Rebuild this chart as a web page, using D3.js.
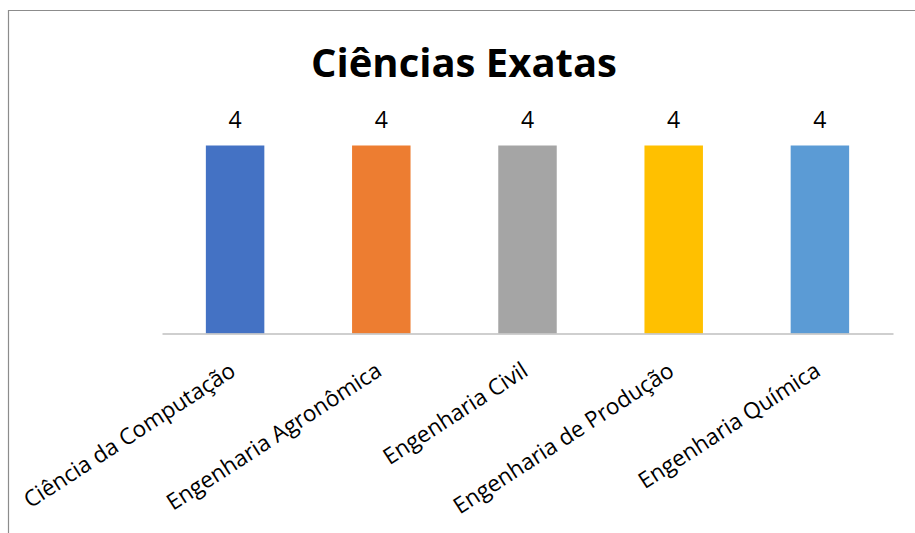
<!DOCTYPE html>
<html>
<head>
<meta charset="utf-8">
<script src="https://cdn.jsdelivr.net/npm/d3@7"></script>
<style>
  body { margin: 0; background: #fff; }
  svg { display: block; }
</style>
</head>
<body>
<svg width="915" height="533"></svg>
<script>
  const cursos = [
    "Ciência da Computação",
    "Engenharia Agronômica",
    "Engenharia Civil",
    "Engenharia de Produção",
    "Engenharia Química"
  ];
  const valores = [4, 4, 4, 4, 4];
  const cores = ["#4472c4", "#ed7d31", "#a5a5a5", "#ffc000", "#5b9bd5"];
  const titulo = "Ciências Exatas";

  const svg = d3.select("svg");
  const width = +svg.attr("width");
  const height = +svg.attr("height");
  const font = "'Open Sans', 'Liberation Sans', sans-serif";

  // moldura do gráfico (só esquerda e topo aparecem)
  svg.append("path")
    .attr("d", `M8.5,${height}V10.5H${width}`)
    .attr("fill", "none")
    .attr("stroke", "#8c8c8c")
    .attr("stroke-width", 1.2);

  const x = d3.scaleBand()
    .domain(cursos)
    .range([162, 893])
    .paddingInner(0.6)
    .paddingOuter(0.3);

  const y = d3.scaleLinear()
    .domain([0, 5])
    .range([333.5, 98.5]);

  svg.append("text")
    .attr("x", 464)
    .attr("y", 77)
    .attr("text-anchor", "middle")
    .attr("font-family", font)
    .attr("font-weight", "bold")
    .attr("font-size", 40)
    .attr("fill", "#000")
    .text(titulo);

  const dados = cursos.map((c, i) => ({ curso: c, valor: valores[i], cor: cores[i] }));

  svg.append("g")
    .selectAll("rect")
    .data(dados)
    .join("rect")
    .attr("x", d => x(d.curso))
    .attr("width", x.bandwidth())
    .attr("y", d => y(d.valor))
    .attr("height", d => y(0) - y(d.valor))
    .attr("fill", d => d.cor);

  svg.append("g")
    .selectAll("text")
    .data(dados)
    .join("text")
    .attr("x", d => x(d.curso) + x.bandwidth() / 2)
    .attr("y", d => y(d.valor) - 18)
    .attr("text-anchor", "middle")
    .attr("font-family", font)
    .attr("font-size", 23)
    .attr("fill", "#000")
    .text(d => d.valor);

  // eixo x
  const eixo = svg.append("g")
    .attr("transform", `translate(0,${y(0)})`)
    .call(d3.axisBottom(x).tickSize(0).tickPadding(0));
  eixo.select(".domain")
    .attr("stroke", "#bfbfbf")
    .attr("stroke-width", 1.5);
  eixo.selectAll(".tick text")
    .attr("font-family", font)
    .attr("font-size", 22.5)
    .attr("fill", "#000")
    .attr("text-anchor", "end")
    .attr("dy", 0)
    .attr("transform", "translate(2,41) rotate(-33)");
</script>
</body>
</html>
